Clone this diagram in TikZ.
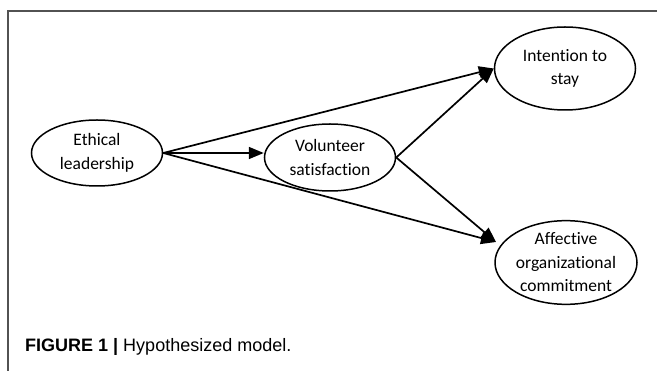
\documentclass[tikz,border=0pt]{standalone}
\usepackage{fontspec}
\setmainfont{Liberation Sans}
\newfontfamily\boxfont[Ligatures=NoCommon]{Carlito}
\usetikzlibrary{arrows.meta,shapes.geometric}
\begin{document}
\begin{tikzpicture}[x=1pt,y=-1pt,
  construct/.style={ellipse,draw=black,line width=1.5pt,inner sep=0pt,
    font=\boxfont\fontsize{17.5}{23.5}\selectfont,align=center},
  path/.style={line width=1.7pt,-{Triangle[length=15pt,width=12pt]}},
  frameline/.style={draw=black!68,line width=1.3pt}]
\useasboundingbox (0,0) rectangle (657,371);
% figure frame (top and left edges)
\draw[frameline] (657,11) -- (8,11) -- (8,371);
% constructs
\node[construct,minimum width=131pt,minimum height=66pt] (eth) at (97,153) {Ethical\\leadership};
\node[construct,minimum width=131pt,minimum height=67pt] (vol) at (330,157.5) {Volunteer\\satisfaction};
\node[construct,minimum width=141pt,minimum height=83pt] (int) at (565,68.5) {Intention to\\stay};
\node[construct,minimum width=142pt,minimum height=81pt] (aff) at (566,262.5) {Affective\\organizational\\commitment};
% hypothesized paths
\coordinate (tipA) at (496,242);
\draw[path] (eth.east) -- (int.west);
\draw[path] (eth.east) -- (eth.east -| vol.west);
\draw[path] (eth.east) -- (tipA);
\draw[path] (vol.east) -- (int.west);
\draw[path] (vol.east) -- (tipA);
% caption
\node[anchor=base west,inner sep=0pt,font=\fontsize{18}{20}\selectfont] (cap) at (25,352)
  {\textbf{FIGURE 1 |} Hypothesized model.};
\end{tikzpicture}
\end{document}
